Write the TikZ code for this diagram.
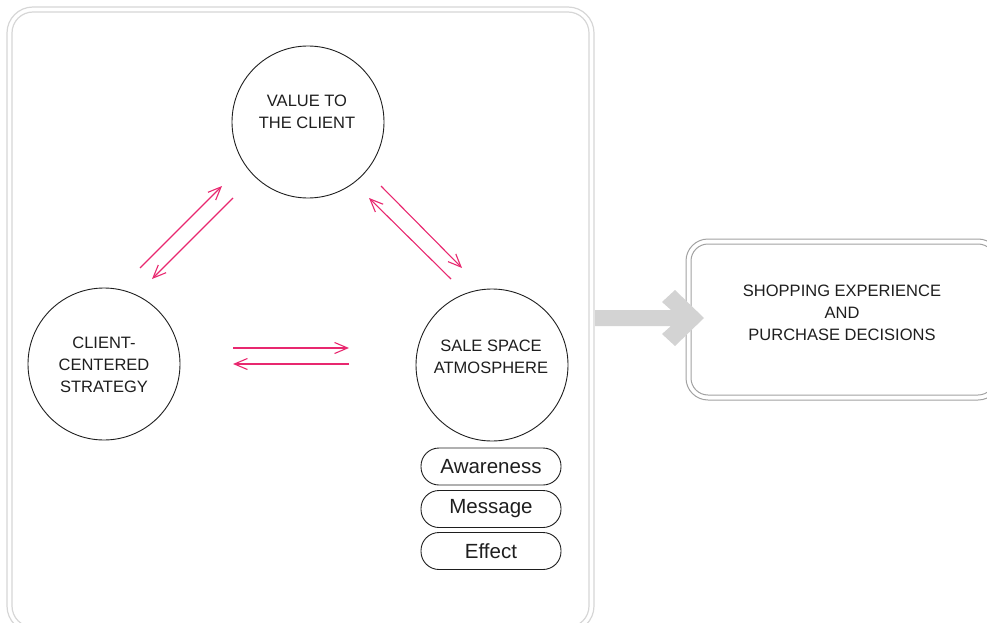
\documentclass[tikz,border=0pt]{standalone}
\usepackage{fontspec}
\setmainfont{Liberation Sans}
\newfontfamily\labelfont{Liberation Sans}
\usetikzlibrary{arrows.meta}
\definecolor{linkpink}{HTML}{E8286F}
\definecolor{framegray}{HTML}{D6D6D6}
\definecolor{boxgray}{HTML}{A2A2A2}
\definecolor{bigarrow}{HTML}{D3D3D3}
\definecolor{ink}{HTML}{1E1E1E}
\tikzset{
  topic/.style={circle, draw=ink, line width=0.9pt, minimum size=152pt, inner sep=0pt},
  caption/.style={align=center, font=\labelfont\fontsize{16.5}{22}\selectfont, text=ink, inner sep=0pt},
  pill/.style={draw=ink, line width=0.9pt, rounded corners=18pt, minimum width=140pt,
    minimum height=37pt, inner sep=0pt, font=\labelfont\fontsize{20.5}{22}\selectfont, text=ink},
  link/.style={draw=linkpink, line width=1.1pt, -{Straight Barb[length=13pt,width=11pt]}},
}
\begin{document}
\begin{tikzpicture}[x=1pt, y=-1pt]
  \useasboundingbox (0,0) rectangle (987,623);

  % outer frame around the model (double line)
  \draw[framegray, line width=1.2pt, rounded corners=26pt] (7,7) rectangle (594,632);
  \draw[framegray, line width=1.2pt, rounded corners=21pt] (12,12) rectangle (589,627);

  % outcome box (double line)
  \draw[boxgray, line width=1pt, rounded corners=22pt] (686,239) rectangle (1000,400);
  \draw[boxgray, line width=1pt, rounded corners=17pt] (691,244) rectangle (995,395);
  \node[caption] (outcome) at (842,313) {SHOPPING EXPERIENCE\\AND\\PURCHASE DECISIONS};

  % wide arrow from the model to the outcome
  \fill[bigarrow] (595,310) -- (671,310) -- (662,302) -- (675,290) -- (704,318)
    -- (675,346) -- (662,334) -- (671,326) -- (595,326) -- cycle;

  % the three factors
  \node[topic] (value) at (308,122) {};
  \node[caption] at (307,112) {VALUE TO\\THE CLIENT};
  \node[topic] (client) at (104,364) {};
  \node[caption] at (104,365) {CLIENT-\\CENTERED\\STRATEGY};
  \node[topic] (space) at (492,365) {};
  \node[caption] at (491,357) {SALE SPACE\\ATMOSPHERE};

  % atmosphere components
  \node[pill] (aware) at (491,466.5) {Awareness};
  \node[pill] (msg) at (491,509) {Message};
  \node[pill] (eff) at (491,551) {Effect};

  % end points of the two-way links
  \coordinate (cvA) at (140,268);  \coordinate (cvB) at (222,186);
  \coordinate (vcA) at (233,198);  \coordinate (vcB) at (152,279);
  \coordinate (vsA) at (381,186);  \coordinate (vsB) at (462,268);
  \coordinate (svA) at (451,279);  \coordinate (svB) at (369,198);
  \coordinate (csA) at (233,348);  \coordinate (csB) at (349,348);
  \coordinate (scA) at (349,364);  \coordinate (scB) at (233,364);

  \draw[link] (cvA) -- (cvB);
  \draw[link] (vcA) -- (vcB);
  \draw[link] (vsA) -- (vsB);
  \draw[link] (svA) -- (svB);
  \draw[link] (csA) -- (csB);
  \draw[link] (scA) -- (scB);
\end{tikzpicture}
\end{document}
